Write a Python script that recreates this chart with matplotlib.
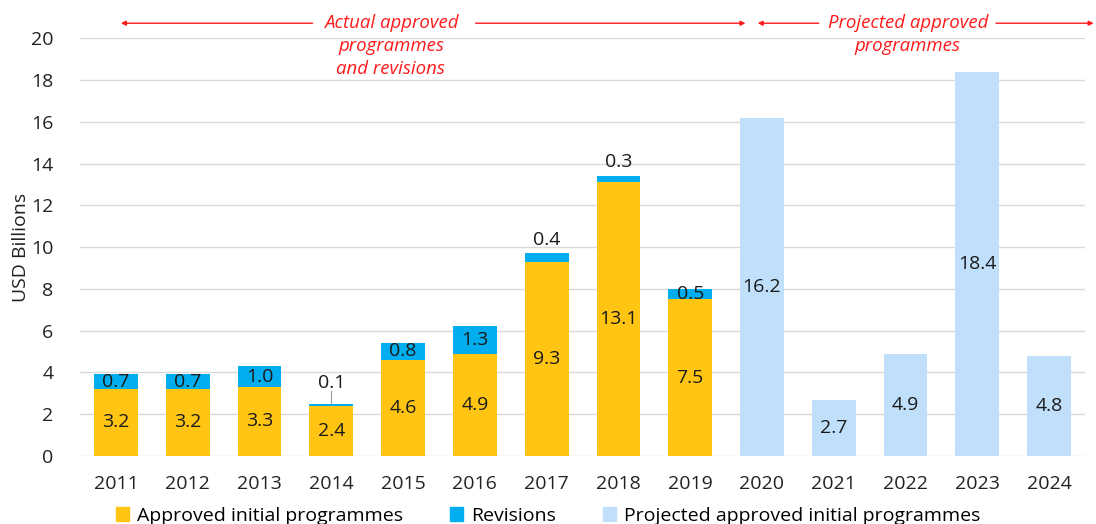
import matplotlib
matplotlib.use('Agg')
import matplotlib.pyplot as plt
from matplotlib.patches import Patch
import numpy as np

plt.rcParams['font.family'] = ['Open Sans', 'DejaVu Sans']

# data
years = ['2011', '2012', '2013', '2014', '2015', '2016', '2017',
         '2018', '2019', '2020', '2021', '2022', '2023', '2024']
approved = [3.2, 3.2, 3.3, 2.4, 4.6, 4.9, 9.3, 13.1, 7.5]
revisions = [0.7, 0.7, 1.0, 0.1, 0.8, 1.3, 0.4, 0.3, 0.5]
projected = [16.2, 2.7, 4.9, 18.4, 4.8]

# revision labels that sit above the bar instead of inside it
rev_above = [False, False, False, True, False, False, True, True, False]

YELLOW = '#FFC512'
BLUE = '#00AEEF'
LIGHT = '#BFDFFB'

fig = plt.figure(figsize=(10.96, 5.24), dpi=100)
ax = fig.add_axes([0.073, 0.13, 0.917, 0.797])

x = np.arange(len(years))
n_act = len(approved)
xa = x[:n_act]
xp = x[n_act:]
w = 0.61

ax.bar(xa, approved, w, color=YELLOW, zorder=3)
ax.bar(xa, revisions, w, bottom=approved, color=BLUE, zorder=3)
ax.bar(xp, projected, w, color=LIGHT, zorder=3)

fs = 14
tc = '#1a1a1a'
for i in range(n_act):
    ax.text(xa[i], approved[i] / 2, f'{approved[i]:.1f}', ha='center', va='center',
            fontsize=fs, color=tc, zorder=4)
    top = approved[i] + revisions[i]
    if rev_above[i]:
        gap = 1.0 if i == 3 else 0.65
        ax.text(xa[i], top + gap, f'{revisions[i]:.1f}', ha='center', va='center',
                fontsize=fs, color=tc, zorder=4)
        if i == 3:
            # leader line for the tiny 2014 revision
            ax.plot([xa[i], xa[i]], [top + 0.05, top + 0.6], color='#999999', lw=0.8, zorder=4)
    else:
        ax.text(xa[i], approved[i] + revisions[i] / 2, f'{revisions[i]:.1f}', ha='center',
                va='center', fontsize=fs, color=tc, zorder=4)
for i in range(len(projected)):
    ax.text(xp[i], projected[i] / 2, f'{projected[i]:.1f}', ha='center', va='center',
            fontsize=fs, color=tc, zorder=4)

ax.set_xlim(-0.5, 13.5)
ax.set_ylim(0, 20)
ax.set_yticks(range(0, 21, 2))
ax.set_xticks(x)
ax.set_xticklabels(years)
ax.tick_params(axis='both', length=0, labelsize=14, colors='#222222')
ax.tick_params(axis='x', pad=14)
ax.tick_params(axis='y', pad=19)
ax.grid(axis='y', color='#D9D9D9', lw=1, zorder=0)
for s in ax.spines.values():
    s.set_visible(False)
ax.set_ylabel('USD Billions', fontsize=14, color='#222222', labelpad=1)

# period annotations above the chart
RED = '#FF1A1A'
ann_y = 20.72
afont = dict(fontsize=13.4, color=RED, style='italic', ha='center', va='center',
             family=['Liberation Sans Narrow', 'Open Sans', 'DejaVu Sans'])
arrow = dict(arrowstyle='-|>', color=RED, lw=1.0, mutation_scale=7, shrinkA=0, shrinkB=0)
for x0, x1 in [(2.74, 0.07), (5.01, 8.77), (9.79, 8.94), (12.26, 13.62)]:
    ax.annotate('', xy=(x1, ann_y), xytext=(x0, ann_y), arrowprops=arrow,
                annotation_clip=False)
ax.text(3.83, ann_y, 'Actual approved', clip_on=False, **afont)
ax.text(3.83, ann_y - 1.1, 'programmes', clip_on=False, **afont)
ax.text(3.83, ann_y - 2.2, 'and revisions', clip_on=False, **afont)
ax.text(11.03, ann_y, 'Projected approved', clip_on=False, **afont)
ax.text(11.03, ann_y - 1.1, 'programmes', clip_on=False, **afont)

handles = [Patch(color=YELLOW, label='Approved initial programmes'),
           Patch(color=BLUE, label='Revisions'),
           Patch(color=LIGHT, label='Projected approved initial programmes')]
fig.legend(handles=handles, loc='lower center', bbox_to_anchor=(0.5, -0.035), ncol=3,
           frameon=False, fontsize=14, handlelength=0.7, handleheight=0.7,
           handletextpad=0.4, columnspacing=2.4)

fig.savefig('out.png', dpi=100)
